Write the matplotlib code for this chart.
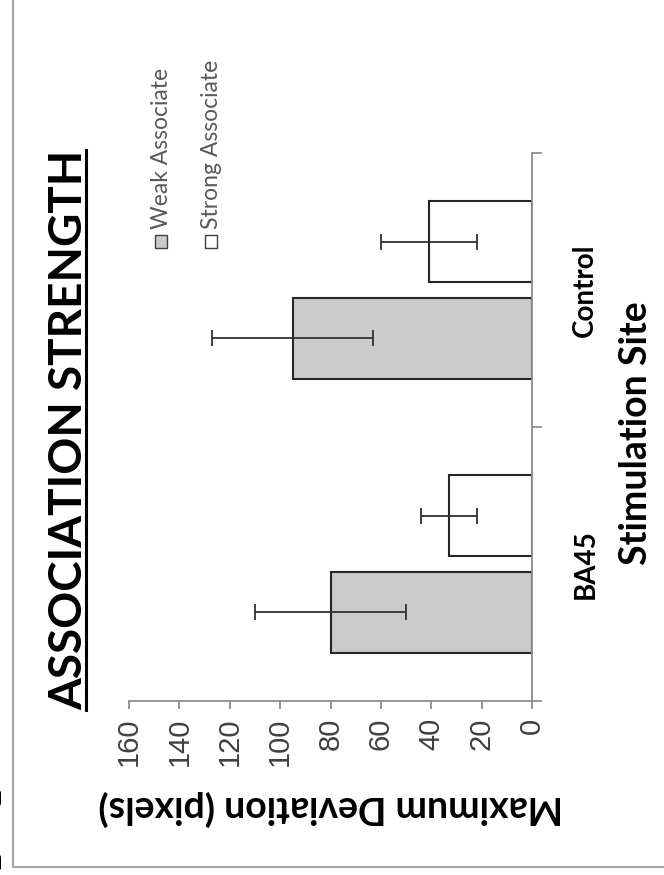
import matplotlib
matplotlib.use("Agg")

import numpy as np
import matplotlib.pyplot as plt
from matplotlib.lines import Line2D
from matplotlib.patches import Rectangle

# data: maximum deviation (pixels) by stimulation site
sites = ["BA45", "Control"]
series = ["Weak Associate", "Strong Associate"]
weak_mean = [80, 95]
weak_err = [30, 32]
strong_mean = [33, 41]
strong_err = [11, 19]
value_ticks = [0, 20, 40, 60, 80, 100, 120, 140, 160]

W, H = 664, 875
GREY_FILL = "#cbcbcb"
AXIS_GREY = "#8c8c8c"
EDGE = "#262626"
HEAD_FONT = "Lato"


def fx(x):
    return x / W


def fy(y):
    return 1 - y / H


fig = plt.figure(figsize=(W / 100, H / 100), dpi=100)
fig.patch.set_facecolor("white")

# the whole chart is laid on its side: values run right-to-left along the bottom
ax = fig.add_axes([fx(129), fy(701), (532 - 129) / W, (701 - 153) / H])

pos = np.arange(len(sites))
bar_h = 0.296
off = 0.176
err_style = dict(ecolor="#303030", elinewidth=1.3, capsize=6, capthick=1.3)

ax.barh(pos - off, weak_mean, height=bar_h, color=GREY_FILL, edgecolor=EDGE,
        linewidth=1.5, xerr=weak_err, error_kw=err_style, label=series[0])
ax.barh(pos + off, strong_mean, height=bar_h, color="white", edgecolor=EDGE,
        linewidth=1.5, xerr=strong_err, error_kw=err_style, label=series[1])

ax.set_xlim(160, 0)
ax.set_ylim(-0.5, 1.5)

for side in ["top", "left"]:
    ax.spines[side].set_visible(False)
for side in ["right", "bottom"]:
    ax.spines[side].set_color(AXIS_GREY)
    ax.spines[side].set_linewidth(1.3)

ax.set_xticks(value_ticks)
ax.set_xticklabels([str(v) for v in value_ticks], rotation=90,
                   fontfamily="Liberation Sans", fontsize=21, color="#404040")
ax.tick_params(axis="x", direction="out", length=6, width=1.3,
               color=AXIS_GREY, pad=6)

# category boundaries get the tick marks, category names sit at the centres
ax.set_yticks([-0.5, 0.5, 1.5])
ax.set_yticklabels([])
ax.set_yticks(pos, minor=True)
ax.set_yticklabels(sites, minor=True, rotation=90, fontfamily=HEAD_FONT,
                   fontweight="bold", fontsize=20, va="center")
ax.tick_params(axis="y", which="both", left=False, labelleft=False,
               right=True, labelright=True)
ax.tick_params(axis="y", which="major", direction="out", length=7,
               width=1.3, color=AXIS_GREY)
ax.tick_params(axis="y", which="minor", length=0, pad=29)

fig.text(fx(636), fy(433), "Stimulation Site", rotation=90, ha="center",
         va="center", fontfamily=HEAD_FONT, fontweight="bold", fontsize=27)
fig.text(fx(331), fy(808), "Maximum Deviation (pixels)", rotation=180,
         ha="center", va="center", fontfamily=HEAD_FONT, fontweight="bold",
         fontsize=27)

title = fig.text(fx(69), fy(430), "ASSOCIATION STRENGTH", rotation=90,
                 ha="center", va="center", fontfamily=HEAD_FONT,
                 fontweight="bold", fontsize=33)

# legend, stacked side by side like the rest of the rotated layout
legend_rows = [(155, GREY_FILL), (205, "white")]
for (lx, fill), name in zip(legend_rows, series):
    fig.patches.append(Rectangle((fx(lx), fy(248)), 12 / W, 13 / H,
                                 transform=fig.transFigure, facecolor=fill,
                                 edgecolor="#404040", linewidth=1.0))
    fig.text(fx(lx + 7), fy(229), name, rotation=90, rotation_mode="anchor",
             ha="left", va="center", fontfamily=HEAD_FONT, fontsize=16.5,
             color="#595959")

# panel letter, mostly outside the page
fig.text(fx(3), fy(830), "A", rotation=90, rotation_mode="anchor",
         ha="center", va="baseline", fontfamily=HEAD_FONT,
         fontweight="bold", fontsize=80)

# frame
fig.add_artist(Line2D([fx(12.5), fx(12.5)], [1, fy(866.5)],
                      transform=fig.transFigure, color="#a6a6a6", lw=1.5))
fig.add_artist(Line2D([fx(12.5), 1], [fy(866.5), fy(866.5)],
                      transform=fig.transFigure, color="#a6a6a6", lw=1.5))

# underline the title
fig.canvas.draw()
bb = title.get_window_extent()
ux = bb.x1 - 4
inv = fig.transFigure.inverted()
(x0, y0), (x1, y1) = inv.transform([(ux, bb.y0), (ux, bb.y1)])
fig.add_artist(Line2D([x0, x1], [y0, y1], transform=fig.transFigure,
                      color="black", lw=2.2))

fig.savefig("out.png", dpi=100)
